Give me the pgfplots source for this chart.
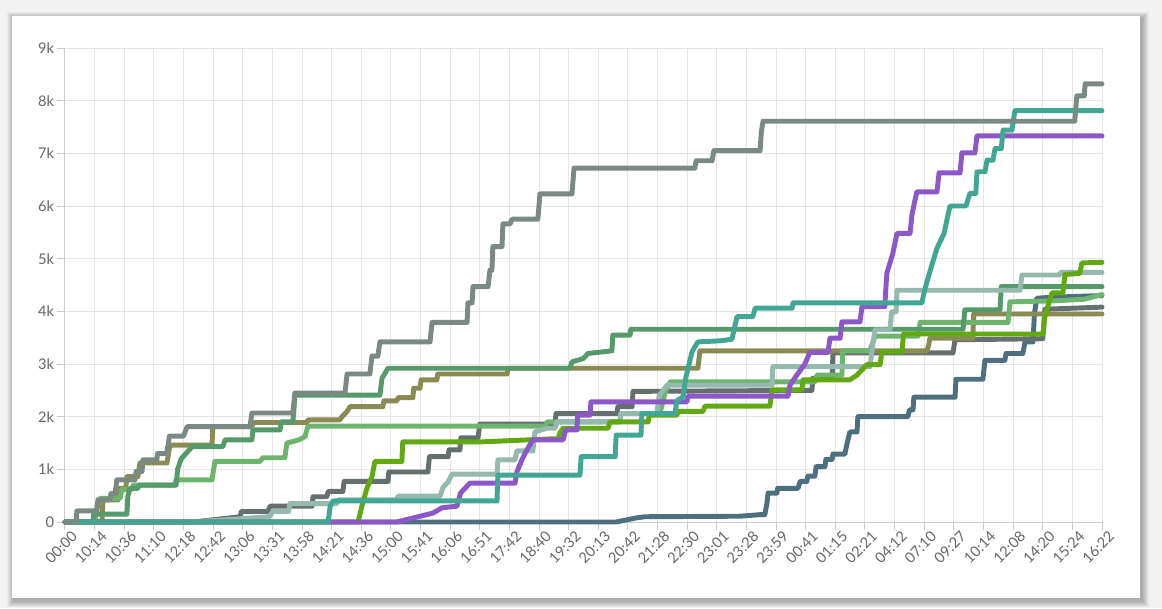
\documentclass[border=0pt]{standalone}
\usepackage{fontspec}
\setmainfont{Lato}
\usepackage{pgfplots}
\pgfplotsset{compat=1.18}
\definecolor{bgc}{HTML}{F2F2F2}
\definecolor{lab}{HTML}{666666}
\definecolor{cA}{HTML}{7A8A83}
\definecolor{cB}{HTML}{41A794}
\definecolor{cC}{HTML}{8C57C6}
\definecolor{cD}{HTML}{62A813}
\definecolor{cE}{HTML}{95B8AF}
\definecolor{cF}{HTML}{56996A}
\definecolor{cG}{HTML}{6EB46F}
\definecolor{cH}{HTML}{4E6F7D}
\definecolor{cI}{HTML}{656F70}
\definecolor{cJ}{HTML}{8A8B53}
\begin{document}
\begin{tikzpicture}
\fill[bgc] (-48.75pt,-64.5pt) rectangle (822.75pt,391.5pt);
\foreach \k in {0.5,1,...,5}{
  \fill[black,opacity=0.03] (-39.75pt-\k pt+1.5pt,-57pt-\k pt-2pt) rectangle (806.25pt+\k pt+1.5pt,379.5pt+\k pt-2pt);
}
\fill[white] (-39.75pt,-57pt) rectangle (806.25pt,379.5pt);
\begin{axis}[
  at={(0pt,0pt)}, anchor=south west,
  scale only axis, width=777.75pt, height=355.5pt,
  xmin=0, xmax=35, ymin=0, ymax=9000,
  clip=false,
  axis x line*=bottom, axis y line*=left,
  axis line style={draw=gray!40, line width=0.75pt},
  grid=major,
  major grid style={draw=gray!20, line width=0.75pt},
  tick align=outside,
  major tick length=6pt,
  tick style={draw=gray!40, line width=0.75pt},
  xtick={0,1,...,35},
  xticklabels={00:00,10:14,10:36,11:10,12:18,12:42,13:06,13:31,13:58,14:21,14:36,15:00,15:41,16:06,16:51,17:42,18:40,19:32,20:13,20:42,21:28,22:30,23:01,23:28,23:59,00:41,01:15,02:21,04:12,07:10,09:27,10:14,12:08,14:20,15:24,16:22},
  ytick={0,1000,...,9000},
  yticklabels={0,1k,2k,3k,4k,5k,6k,7k,8k,9k},
  ticklabel style={font=\fontsize{11}{13}\selectfont, text=lab},
  xticklabel style={rotate=45, anchor=north east, inner sep=1pt, xshift=4pt, yshift=-2pt},
  yticklabel style={inner sep=2pt},
  every axis plot/.append style={line width=3.7pt, line join=round, line cap=round, mark=none},
]
% H slate
\addplot[cH] coordinates {(0,0) (18.6,0) (19.3,80) (19.57,100) (22.78,110) (23.46,140) (23.62,140) (23.69,350) (23.73,550) (24.03,550) (24.05,640) (24.74,640) (24.81,770) (25.04,770) (25.07,870) (25.31,870) (25.35,1050) (25.65,1050) (25.68,1190) (25.89,1190) (25.92,1290) (26.32,1290) (26.40,1500) (26.49,1710) (26.73,1710) (26.76,2000) (28.45,2000) (28.50,2130) (28.62,2130) (28.65,2370) (30.04,2370) (30.07,2710) (30.98,2710) (31.05,3070) (31.72,3070) (31.76,3200) (32.33,3200) (32.40,3420) (32.67,3420) (32.72,3960) (32.80,4250) (33.41,4270) (35,4300)};
% I dark gray
\addplot[cI] coordinates {(0,0) (4.32,0) (5.91,100) (5.95,200) (6.85,200) (6.92,300) (8.34,300) (8.37,480) (8.84,480) (8.88,580) (9.38,580) (9.42,770) (10.90,770) (10.93,950) (12.25,950) (12.30,1240) (12.93,1240) (12.96,1370) (13.33,1370) (13.36,1600) (13.94,1600) (14.0,1860) (16.54,1860) (16.57,2060) (18.63,2060) (18.66,2190) (19.14,2190) (19.17,2480) (25.21,2500) (25.24,2730) (25.89,2730) (25.92,3210) (29.97,3210) (30.04,3460) (33.0,3480) (33.07,4040) (35,4080)};
% J olive
\addplot[cJ] coordinates {(0,0) (1.25,0) (1.28,420) (1.79,420) (1.82,640) (2.05,640) (2.09,860) (2.46,860) (2.53,1120) (3.44,1120) (3.54,1460) (4.96,1460) (4.99,1810) (6.31,1810) (6.34,1890) (8.17,1890) (8.20,1940) (9.28,1940) (9.35,2000) (9.52,2100) (9.62,2190) (10.73,2190) (10.76,2300) (11.20,2300) (11.24,2360) (11.74,2360) (11.77,2540) (11.98,2540) (12.02,2700) (12.55,2700) (12.58,2810) (14.92,2810) (14.95,2920) (21.36,2920) (21.43,3250) (29.09,3250) (29.15,3360) (29.19,3490) (30.64,3490) (30.67,3950) (35,3950)};
% G light green
\addplot[cG] coordinates {(0,0) (1.01,0) (1.08,300) (1.18,450) (1.86,450) (1.92,620) (2.26,620) (2.30,700) (3.71,700) (3.75,800) (4.96,800) (5.06,1150) (6.58,1150) (6.68,1220) (7.42,1220) (7.49,1500) (7.90,1560) (8.10,1620) (8.20,1820) (16.20,1820) (16.27,1900) (18.73,1900) (18.76,2060) (20.08,2060) (20.25,2450) (20.42,2660) (25.31,2660) (25.38,2790) (26.22,2790) (26.25,3250) (27.17,3250) (27.34,3530) (28.79,3530) (28.86,3790) (31.83,3790) (31.89,4180) (33.4,4200) (34.4,4230) (35,4320)};
% F medium green
\addplot[cF] coordinates {(0,0) (0.94,0) (0.97,150) (2.09,150) (2.12,480) (2.19,640) (2.46,640) (2.50,700) (3.75,700) (3.80,1000) (3.92,1200) (4.29,1430) (5.33,1430) (5.40,1560) (6.31,1560) (6.34,1750) (7.26,1750) (7.30,1900) (7.69,1900) (7.72,2090) (7.76,2410) (10.63,2410) (10.70,2730) (10.90,2920) (17.04,2920) (17.11,3040) (17.48,3100) (17.65,3200) (18.46,3250) (18.49,3550) (19.07,3550) (19.10,3660) (30.31,3660) (30.37,4030) (31.56,4030) (31.60,4470) (35,4470)};
% E light gray-teal
\addplot[cE] coordinates {(0,0) (4.32,0) (6.9,100) (7.02,200) (7.55,200) (7.59,350) (9.18,350) (9.22,420) (11.20,420) (11.24,490) (12.66,490) (12.76,660) (12.93,760) (13.06,910) (14.58,910) (14.61,1180) (15.19,1180) (15.25,1350) (15.79,1350) (15.86,1710) (16.27,1780) (16.54,1780) (16.60,1900) (18.73,1900) (18.76,2060) (19.98,2060) (20.05,2400) (20.32,2600) (23.86,2600) (23.89,2950) (27.17,2950) (27.27,3400) (27.34,3650) (27.84,3650) (27.90,3990) (28.05,3990) (28.08,4400) (32.23,4400) (32.30,4690) (33.58,4690) (33.60,4740) (35,4740)};
% D bright green
\addplot[cD] coordinates {(0,0) (9.89,0) (10.02,300) (10.19,640) (10.36,860) (10.46,1150) (11.37,1150) (11.40,1520) (14.0,1520) (16.47,1580) (16.64,1580) (16.71,1700) (16.81,1780) (18.33,1780) (18.39,1900) (19.68,1900) (19.72,2030) (20.65,2030) (20.70,2100) (21.53,2100) (21.60,2200) (23.79,2200) (23.86,2510) (24.87,2510) (24.91,2700) (26.49,2700) (26.73,2790) (26.90,2890) (27.07,2990) (27.51,2990) (27.57,3230) (28.25,3230) (28.30,3570) (33.01,3570) (33.07,3900) (33.31,4350) (33.68,4350) (33.75,4700) (34.25,4720) (34.32,4920) (35,4930)};
% C purple
\addplot[cC] coordinates {(0,0) (11.20,0) (12.42,170) (12.72,270) (13.23,300) (13.35,550) (13.67,740) (15.19,740) (15.25,950) (15.42,1180) (15.59,1370) (15.79,1560) (16.81,1560) (16.90,1750) (17.28,1750) (17.30,2030) (17.72,2030) (17.75,2280) (20.99,2280) (21.03,2390) (24.40,2390) (24.47,2600) (24.70,2790) (24.97,3000) (25.14,3220) (25.75,3220) (25.82,3490) (26.16,3490) (26.22,3800) (26.83,3800) (26.90,4090) (27.67,4090) (27.70,4400) (27.74,4730) (27.94,5100) (28.08,5480) (28.52,5480) (28.59,5850) (28.75,6270) (29.43,6270) (29.50,6630) (30.21,6630) (30.27,7010) (30.71,7010) (30.78,7330) (35,7330)};
% B teal
\addplot[cB] coordinates {(0,0) (8.88,0) (8.95,300) (9.05,400) (14.58,400) (14.61,890) (17.38,890) (17.42,1240) (18.57,1240) (18.60,1650) (19.44,1650) (19.47,2060) (20.59,2060) (20.65,2300) (20.86,2380) (20.95,2730) (21.16,3230) (21.36,3420) (22.11,3440) (22.51,3470) (22.68,3900) (23.22,3900) (23.29,4060) (24.54,4060) (24.57,4160) (28.92,4160) (29.02,4420) (29.19,4750) (29.43,5200) (29.67,5480) (29.77,5750) (29.87,6000) (30.41,6000) (30.54,6240) (30.74,6240) (30.78,6650) (31.05,6650) (31.12,6870) (31.32,6870) (31.39,7090) (31.60,7090) (31.66,7440) (31.96,7440) (32.06,7810) (35,7810)};
% A gray-green
\addplot[cA] coordinates {(0,0) (0.38,0) (0.40,210) (1.08,210) (1.11,420) (1.52,420) (1.55,540) (1.69,540) (1.75,800) (2.36,800) (2.40,960) (2.60,960) (2.63,1180) (3.10,1180) (3.12,1300) (3.44,1300) (3.46,1430) (3.48,1430) (3.52,1630) (4.0,1630) (4.12,1810) (6.24,1810) (6.31,2070) (7.69,2070) (7.76,2450) (9.45,2450) (9.52,2810) (10.29,2810) (10.36,3150) (10.56,3150) (10.63,3420) (12.32,3420) (12.39,3790) (13.57,3790) (13.60,4160) (13.74,4160) (13.77,4470) (14.28,4470) (14.34,4780) (14.41,4780) (14.44,5230) (14.75,5230) (14.78,5660) (15.02,5660) (15.09,5750) (15.96,5750) (16.03,6230) (17.11,6230) (17.18,6720) (21.26,6720) (21.30,6860) (21.84,6860) (21.90,7050) (23.46,7050) (23.50,7400) (23.56,7610) (34.08,7610) (34.15,8090) (34.40,8090) (34.43,8320) (35,8320)};
\end{axis}
\pgfresetboundingbox
\path[use as bounding box] (-48.75pt,-64.5pt) rectangle (822.75pt,391.5pt);
\end{tikzpicture}
\end{document}
